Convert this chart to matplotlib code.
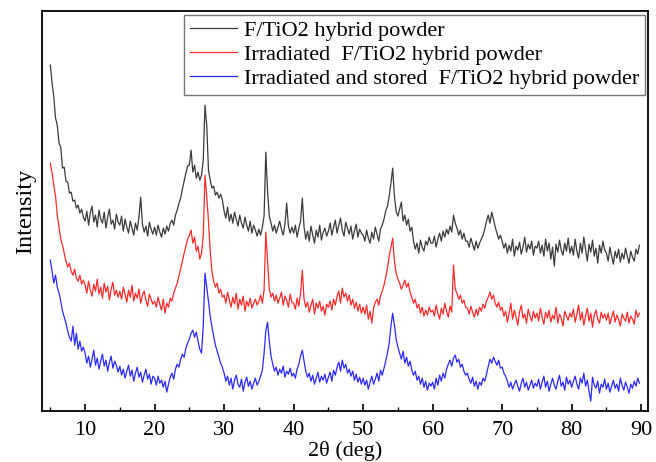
import numpy as np
import matplotlib
matplotlib.use("Agg")
import matplotlib.pyplot as plt

# XRD patterns, 2theta from 5.0 deg in 0.25 deg steps (one row = 5 deg)
start_deg = 5.0
step_deg = 0.25

fresh = [
    346, 328, 314, 293, 286, 268, 264, 243, 244, 230, 229, 218, 219, 210, 211, 203, 206, 198, 202, 194,
    190, 200, 186, 198, 205, 189, 196, 184, 201, 192, 188, 199, 183, 194, 202, 187, 191, 182, 197, 189,
    186, 195, 180, 192, 184, 178, 190, 183, 176, 188, 181, 194, 214, 187, 179, 185, 175, 189, 182, 177,
    184, 176, 186, 179, 174, 183, 177, 185, 180, 188, 191, 186, 196, 201, 208, 213, 222, 230, 238, 245,
    246, 261, 239, 246, 233, 239, 231, 236, 251, 306, 286, 241, 231, 223, 225, 216, 219, 213, 217, 211,
    200, 193, 204, 190, 197, 188, 199, 192, 185, 196, 188, 183, 194, 186, 180, 190, 178, 186, 181, 175,
    182, 176, 184, 195, 259, 220, 195, 188, 180, 186, 178, 184, 190, 182, 176, 187, 208, 185, 178, 184,
    178, 186, 174, 183, 190, 213, 184, 172, 180, 170, 185, 176, 168, 181, 174, 186, 171, 179, 183, 175,
    180, 188, 176, 184, 191, 178, 186, 193, 181, 175, 189, 183, 177, 185, 172, 180, 187, 174, 182, 178,
    176, 170, 181, 173, 168, 179, 172, 184, 177, 170, 182, 186, 192, 200, 205, 215, 228, 243, 215, 200,
    195, 202, 209, 190, 196, 186, 192, 180, 184, 170, 162, 168, 158, 171, 164, 160, 170, 166, 174, 168,
    168, 175, 164, 172, 178, 170, 180, 174, 182, 177, 185, 179, 196, 188, 183, 176, 181, 172, 178, 170,
    170, 164, 173, 167, 161, 170, 163, 168, 172, 176, 182, 190, 196, 188, 199, 192, 184, 178, 172, 176,
    170, 163, 168, 158, 166, 160, 172, 155, 165, 161, 169, 157, 164, 174, 159, 167, 162, 170, 156, 165,
    163, 170, 158, 166, 155, 172, 160, 168, 152, 164, 145, 167, 159, 171, 161, 156, 168, 160, 173, 158,
    165, 156, 172, 160, 153, 168, 158, 174, 162, 150, 167, 159, 171, 155, 163, 148, 166, 158, 170, 161,
    158, 150, 164, 155, 147, 160, 153, 162, 149, 158, 152, 163, 155, 148, 160, 154, 150, 162, 157, 166,
]

irradiated = [
    248, 238, 226, 215, 196, 184, 172, 166, 158, 150, 144, 148, 140, 136, 142, 133, 130, 136, 127, 131,
    126, 118, 130, 121, 115, 127, 120, 132, 117, 124, 113, 128, 119, 125, 111, 122, 129, 116, 121, 114,
    120, 112, 124, 117, 109, 121, 114, 126, 110, 118, 113, 122, 108, 116, 120, 111, 105, 117, 112, 107,
    110, 104, 114, 107, 101, 112, 98, 108, 104, 113, 110, 118, 123, 128, 135, 142, 150, 158, 165, 172,
    176, 181, 168, 174, 160, 165, 152, 158, 175, 236, 215, 190, 160, 140, 130, 124, 128, 118, 122, 114,
    116, 108, 119, 111, 104, 114, 107, 118, 102, 112, 106, 115, 100, 110, 105, 113, 103, 108, 112, 106,
    110, 116, 108, 121, 179, 150, 122, 114, 118, 110, 116, 108, 113, 119, 106, 115, 111, 104, 117, 109,
    108, 102, 113, 105, 118, 141, 112, 104, 109, 99, 106, 112, 97, 108, 103, 110, 100, 105, 96, 107,
    104, 110, 101, 112, 106, 115, 120, 108, 123, 114, 118, 110, 116, 106, 112, 103, 109, 100, 107, 98,
    104, 97, 106, 92, 100, 88, 103, 109, 112, 106, 115, 120, 126, 134, 143, 155, 164, 173, 150, 138,
    132, 128, 122, 126, 131, 124, 128, 119, 114, 108, 112, 103, 107, 98, 104, 95, 101, 96, 104, 99,
    101, 95, 106, 98, 92, 103, 97, 108, 100, 94, 105, 99, 146, 122, 118, 112, 116, 108, 111, 104,
    103, 97, 105, 99, 94, 102, 96, 104, 100, 107, 103, 110, 114, 119, 112, 116, 108, 104, 109, 101,
    104, 95, 100, 89, 98, 108, 92, 101, 94, 86, 99, 106, 93, 97, 88, 102, 95, 90, 100, 93,
    98, 90, 103, 94, 87, 99, 93, 101, 89, 96, 92, 104, 88, 97, 93, 85, 100, 95, 91, 98,
    94, 102, 89, 97, 106, 91, 99, 86, 95, 103, 90, 98, 84, 96, 101, 92, 88, 99, 93, 97,
    91, 98, 87, 94, 100, 89, 96, 92, 85, 97, 93, 90, 99, 88, 95, 92, 87, 101, 94, 98,
]

stored = [
    151, 140, 128, 136, 124, 118, 110, 100, 94, 88, 80, 74, 70, 85, 66, 78, 62, 70, 60, 64,
    58, 48, 55, 44, 52, 61, 46, 53, 42, 50, 57, 45, 51, 40, 49, 55, 43, 50, 46, 39,
    45, 36, 42, 33, 40, 46, 35, 41, 30, 38, 44, 34, 39, 29, 36, 42, 32, 37, 27, 35,
    33, 26, 35, 28, 31, 24, 30, 19, 27, 34, 38, 32, 42, 47, 44, 52, 57, 54, 63, 68,
    72, 78, 81, 74, 79, 70, 62, 58, 85, 138, 124, 110, 95, 84, 75, 66, 60, 54, 48, 44,
    38, 30, 35, 26, 33, 22, 31, 36, 27, 24, 32, 20, 29, 34, 25, 30, 22, 28, 33, 26,
    30, 35, 41, 58, 80, 89, 70, 55, 47, 40, 44, 36, 42, 38, 45, 34, 40, 37, 43, 35,
    38, 33, 42, 47, 55, 61, 50, 40, 34, 38, 30, 36, 27, 33, 39, 29, 35, 31, 37, 28,
    34, 39, 30, 41, 36, 44, 49, 40, 51, 43, 47, 38, 42, 35, 40, 31, 37, 29, 34, 27,
    33, 26, 31, 22, 29, 35, 27, 32, 38, 30, 41, 36, 43, 50, 58, 68, 85, 98, 86, 72,
    64, 58, 52, 60, 48, 54, 45, 50, 41, 36, 40, 31, 35, 27, 33, 24, 30, 21, 28, 25,
    29, 22, 33, 26, 36, 30, 38, 33, 42, 47, 51, 45, 53, 56, 49, 52, 44, 47, 40, 36,
    38, 32, 28, 34, 25, 30, 22, 29, 26, 33, 30, 37, 45, 52, 48, 54, 50, 46, 51, 43,
    44, 38, 35, 30, 24, 29, 22, 27, 31, 25, 20, 28, 33, 24, 29, 21, 26, 31, 23, 28,
    25, 32, 22, 29, 35, 24, 30, 20, 27, 33, 26, 22, 30, 36, 25, 29, 21, 34, 27, 31,
    24, 30, 35, 27, 22, 33, 28, 38, 25, 31, 20, 10, 34, 26, 23, 30, 18, 27, 24, 32,
    22, 28, 19, 25, 31, 23, 27, 20, 33, 26, 21, 29, 24, 18, 27, 23, 30, 25, 33, 28,
]

labels = [
    "F/TiO2 hybrid powder",
    "Irradiated  F/TiO2 hybrid powder",
    "Irradiated and stored  F/TiO2 hybrid powder",
]
colors = ["#3a3a3a", "#ff2a2a", "#2a2aff"]

plt.rcParams["font.family"] = ["Liberation Serif", "DejaVu Serif"]

fig = plt.figure(figsize=(6.56, 4.62), dpi=100)
ax = fig.add_axes([0.064, 0.110, 0.924, 0.866])

for series, lab, col in zip([fresh, irradiated, stored], labels, colors):
    x = start_deg + step_deg * np.arange(len(series))
    ax.plot(x, series, color=col, lw=0.9, label=lab)

ax.set_xlim(3.8, 91.0)
ax.set_ylim(0, 400)
ax.set_xticks(np.arange(10, 91, 10))
ax.set_xticks(np.arange(5, 91, 10), minor=True)
ax.set_yticks([])
ax.tick_params(axis="x", which="major", direction="in", length=5, width=1.2,
               labelsize=16, pad=7)
ax.tick_params(axis="x", which="minor", direction="in", length=3, width=1.0)
for s in ax.spines.values():
    s.set_linewidth(1.3)

ax.set_xlabel("2θ (deg)", fontsize=16, labelpad=0.5)
ax.set_ylabel("Intensity", fontsize=17.5, labelpad=4)

leg = ax.legend(loc="upper right", bbox_to_anchor=(0.995, 0.99), borderaxespad=0,
                fontsize=16, handlelength=2.1, handletextpad=0.35,
                labelspacing=0.15, fancybox=False, framealpha=1,
                borderpad=0.25)
leg.get_frame().set_edgecolor("#777777")
leg.get_frame().set_linewidth(1.0)

fig.savefig("out.png", dpi=100)
